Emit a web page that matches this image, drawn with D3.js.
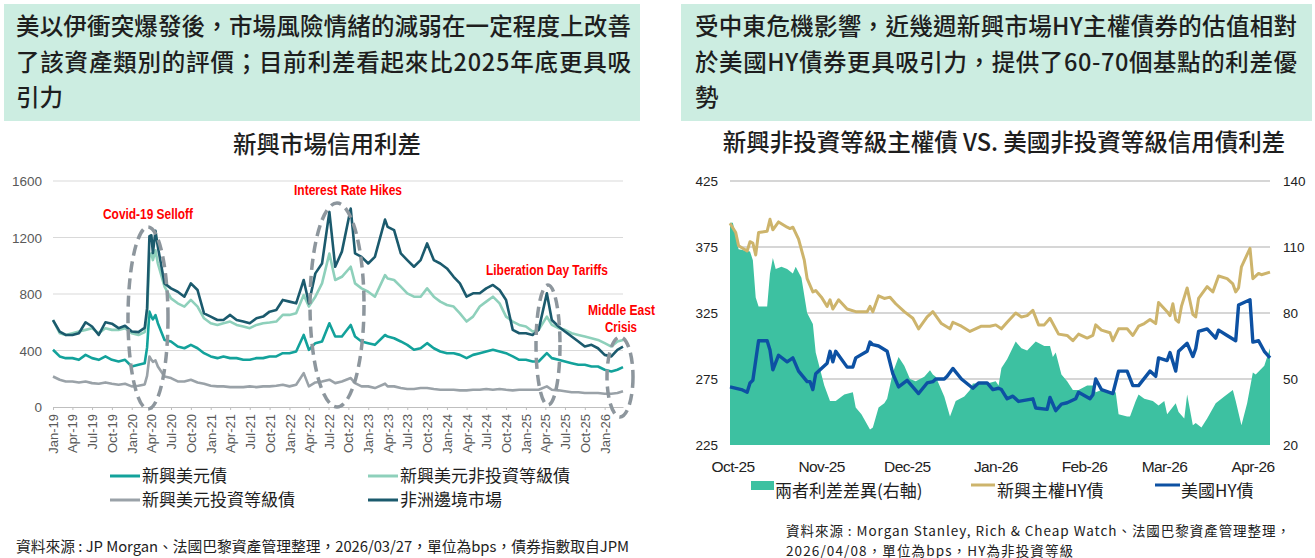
<!DOCTYPE html>
<html>
<head>
<meta charset="utf-8">
<script src="https://cdn.jsdelivr.net/npm/d3@7"></script>
<style>
body { margin: 0; background: #fff; }
svg { display: block; font-family: "Noto Sans CJK TC", "Noto Sans", sans-serif; }
</style>
</head>
<body>
<svg id="chart" width="1315" height="558"></svg>
<script>
// ---- left chart: EM credit spreads (bps) ----
const emDates = [
  '2019-01-01','2019-02-01','2019-03-01','2019-04-01','2019-05-01','2019-06-01','2019-07-01','2019-08-01','2019-09-01','2019-10-01','2019-11-01','2019-12-01',
  '2020-01-01','2020-02-01','2020-03-01','2020-03-12','2020-03-23','2020-04-01','2020-04-08','2020-04-20','2020-05-01','2020-06-01','2020-07-01','2020-08-01','2020-09-01','2020-10-01','2020-11-01','2020-12-01',
  '2021-01-01','2021-02-01','2021-03-01','2021-04-01','2021-05-01','2021-06-01','2021-07-01','2021-08-01','2021-09-01','2021-10-01','2021-11-01','2021-12-01',
  '2022-01-01','2022-02-01','2022-03-08','2022-04-01','2022-05-01','2022-06-01','2022-07-05','2022-08-01','2022-09-01','2022-10-12','2022-11-01','2022-12-01',
  '2023-01-01','2023-02-01','2023-03-20','2023-04-01','2023-05-01','2023-06-01','2023-07-01','2023-08-01','2023-09-01','2023-10-01','2023-11-01','2023-12-01',
  '2024-01-01','2024-02-01','2024-03-01','2024-04-01','2024-05-01','2024-06-01','2024-07-01','2024-08-01','2024-09-01','2024-10-01','2024-11-01','2024-12-01',
  '2025-01-01','2025-02-01','2025-03-01','2025-04-08','2025-05-01','2025-06-01','2025-07-01','2025-08-01','2025-09-01','2025-10-01','2025-11-01','2025-12-01',
  '2026-01-01','2026-02-01','2026-03-01','2026-03-27'
]
const africaSpread = [
  615,534,510,510,522,600,570,510,600,590,558,575,
  534,530,560,700,1210,1216,1090,1247,1134,875,840,816,781,875,828,663,
  640,616,616,652,616,605,593,628,640,675,687,758,
  746,734,899,734,946,1016,1381,993,1100,1405,1087,1063,
  1016,1063,1327,1275,1252,1087,1040,993,1040,1158,1040,1016,
  981,922,875,781,805,805,840,864,828,758,546,522,
  522,510,546,805,616,570,534,499,464,428,440,416,
  369,358,405,428
]
const emHySpread = [
  616,522,510,522,534,546,558,522,558,546,546,558,
  522,510,530,650,1060,1087,1040,1110,1016,852,769,734,711,758,711,628,
  593,581,593,605,581,570,558,581,593,598,605,652,
  652,663,793,711,781,875,1087,899,922,993,875,840,
  816,781,934,910,899,852,805,781,781,840,781,746,
  722,711,663,605,640,711,746,781,734,640,605,581,
  570,534,546,640,581,558,546,522,510,499,487,475,
  452,428,464,475
]
const emUsdSpread = [
  405,358,346,346,334,369,346,334,358,334,322,334,
  287,299,310,420,675,640,620,650,593,475,464,428,416,440,416,381,
  358,346,358,346,346,334,334,346,346,358,358,381,
  381,393,510,405,452,464,593,499,499,581,499,464,
  452,440,510,499,487,464,440,405,416,452,416,393,
  381,381,369,346,369,381,393,405,393,381,358,334,
  334,322,322,381,346,334,322,310,299,299,287,287,
  264,252,264,282
]
const emIgSpread = [
  216,193,181,181,174,181,169,165,174,165,158,165,
  146,151,160,220,358,334,320,330,287,216,205,181,181,193,174,165,
  151,146,146,141,141,141,146,141,146,146,151,158,
  146,158,240,146,174,181,193,169,181,205,169,146,
  146,134,165,146,146,134,127,127,134,134,127,122,
  122,122,118,118,122,122,127,122,127,122,118,122,
  122,122,122,146,122,118,111,104,104,99,99,99,
  94,94,99,111
]
const leftTicks = [0, 400, 800, 1200, 1600]
const leftNames = ['新興美元債', '新興美元非投資等級債', '新興美元投資等級債', '非洲邊境市場']

// ---- right chart: EM sovereign HY vs US HY (bps) ----
const sovDates = ['2025-10-01','2025-10-03','2025-10-04','2025-10-07','2025-10-08','2025-10-09','2025-10-10','2025-10-11','2025-10-14','2025-10-15','2025-10-16','2025-10-18','2025-10-21','2025-10-22','2025-10-23','2025-10-25','2025-10-27','2025-10-28','2025-10-30','2025-10-31',
  '2025-11-02','2025-11-04','2025-11-05','2025-11-06','2025-11-08','2025-11-11','2025-11-14','2025-11-18','2025-11-19','2025-11-20','2025-11-22','2025-11-24','2025-11-26','2025-11-28',
  '2025-12-01','2025-12-04','2025-12-06','2025-12-09','2025-12-11','2025-12-14','2025-12-17','2025-12-18','2025-12-21','2025-12-24','2025-12-28','2025-12-31',
  '2026-01-02','2026-01-04','2026-01-06','2026-01-09','2026-01-11','2026-01-13','2026-01-15','2026-01-17','2026-01-19','2026-01-21','2026-01-24','2026-01-27','2026-01-29','2026-01-31',
  '2026-02-03','2026-02-05','2026-02-06','2026-02-08','2026-02-11','2026-02-12','2026-02-14','2026-02-17','2026-02-19','2026-02-21','2026-02-23','2026-02-25','2026-02-27','2026-02-28',
  '2026-03-03','2026-03-04','2026-03-05','2026-03-06','2026-03-07','2026-03-08','2026-03-10','2026-03-12','2026-03-13','2026-03-14','2026-03-17','2026-03-19','2026-03-21','2026-03-24','2026-03-26','2026-03-27','2026-03-28','2026-03-29',
  '2026-04-01','2026-04-02','2026-04-04','2026-04-05','2026-04-08']
const sovHy = [393,386,376,372,379,378,369,386,387,396,388,394,390,389,390,381,365,351,341,342,
  337,330,335,328,335,328,326,326,330,326,338,336,337,332,
  326,321,313,322,326,317,313,318,315,311,315,315,
  316,313,318,325,322,323,327,316,316,321,309,308,304,309,
  306,308,316,312,310,304,313,313,308,315,317,320,317,333,
  326,323,332,320,318,330,344,324,322,336,345,341,353,351,347,341,344,360,
  374,351,355,354,356]
const usDates = ['2025-10-01','2025-10-05','2025-10-07','2025-10-08','2025-10-09','2025-10-11','2025-10-14','2025-10-15','2025-10-16','2025-10-18','2025-10-21','2025-10-23','2025-10-25','2025-10-28','2025-10-29','2025-10-30','2025-10-31',
  '2025-11-02','2025-11-04','2025-11-05','2025-11-06','2025-11-07','2025-11-11','2025-11-13','2025-11-14','2025-11-18','2025-11-19','2025-11-20','2025-11-22','2025-11-25','2025-11-27','2025-11-29',
  '2025-12-02','2025-12-06','2025-12-09','2025-12-11','2025-12-12','2025-12-15','2025-12-16','2025-12-18','2025-12-21','2025-12-25','2025-12-27','2025-12-30',
  '2026-01-01','2026-01-03','2026-01-04','2026-01-06','2026-01-08','2026-01-10','2026-01-15','2026-01-16','2026-01-20','2026-01-21','2026-01-23','2026-01-25','2026-01-27','2026-01-30','2026-01-31',
  '2026-02-04','2026-02-05','2026-02-06','2026-02-08','2026-02-12','2026-02-14','2026-02-17','2026-02-19','2026-02-21','2026-02-25','2026-02-27','2026-02-28',
  '2026-03-03','2026-03-04','2026-03-06','2026-03-07','2026-03-10','2026-03-12','2026-03-13','2026-03-14','2026-03-17','2026-03-20','2026-03-21','2026-03-24','2026-03-27','2026-03-28',
  '2026-04-01','2026-04-02','2026-04-04','2026-04-06','2026-04-08']
const usHy = [269,267,265,272,274,304,304,297,282,293,288,291,281,273,273,267,279,
  283,287,296,288,296,284,284,291,296,303,301,300,296,279,269,
  274,264,272,273,275,275,277,283,275,268,272,272,
  267,268,267,260,262,258,260,253,252,261,251,256,257,260,265,
  260,263,275,267,264,281,281,270,270,281,277,291,
  289,295,281,296,302,292,298,311,313,306,312,308,304,331,
  335,303,304,296,291]
const gapDates = ['2025-10-01','2025-10-02','2025-10-04','2025-10-08','2025-10-09','2025-10-10','2025-10-11','2025-10-14','2025-10-15','2025-10-16','2025-10-17','2025-10-19','2025-10-21','2025-10-23','2025-10-24','2025-10-26','2025-10-28','2025-10-30','2025-10-31',
  '2025-11-03','2025-11-05','2025-11-07','2025-11-10','2025-11-13','2025-11-14','2025-11-16','2025-11-19','2025-11-20','2025-11-22','2025-11-24','2025-11-25','2025-11-27','2025-11-29',
  '2025-12-01','2025-12-03','2025-12-05','2025-12-08','2025-12-10','2025-12-11','2025-12-12','2025-12-15','2025-12-17','2025-12-19','2025-12-22','2025-12-24','2025-12-25','2025-12-27','2025-12-30',
  '2026-01-02','2026-01-03','2026-01-04','2026-01-06','2026-01-09','2026-01-11','2026-01-13','2026-01-16','2026-01-19','2026-01-21','2026-01-22','2026-01-23','2026-01-25','2026-01-27','2026-01-29','2026-01-31',
  '2026-02-03','2026-02-05','2026-02-06','2026-02-08','2026-02-12','2026-02-13','2026-02-14','2026-02-17','2026-02-18','2026-02-20','2026-02-21','2026-02-23','2026-02-26','2026-02-28',
  '2026-03-02','2026-03-03','2026-03-06','2026-03-07','2026-03-09','2026-03-10','2026-03-12','2026-03-13','2026-03-15','2026-03-17','2026-03-20','2026-03-23','2026-03-26','2026-03-27','2026-03-29','2026-03-31',
  '2026-04-02','2026-04-03','2026-04-06','2026-04-08']
const gapVals = [121,121,109,108,104,87,83,83,98,105,100,101,100,98,101,96,80,75,62,
  47,40,40,43,44,37,34,27,28,37,39,41,53,60,
  56,50,49,51,54,52,51,42,33,40,42,45,48,48,48,
  49,47,55,59,67,64,63,67,65,65,60,62,52,49,45,45,
  47,47,44,45,44,44,34,33,33,40,43,41,40,38,
  40,34,39,35,32,43,29,30,28,32,39,42,45,40,29,39,
  53,52,56,64]
const rightLeftTicks = [225, 275, 325, 375, 425]
const rightRightTicks = [20, 50, 80, 110, 140]
const rightNames = ['兩者利差差異(右軸)', '新興主權HY債', '美國HY債']

const parse = d3.timeParse('%Y-%m-%d')
const svg = d3.select('#chart')
const latin = '"Liberation Sans", Arial, sans-serif'

// header boxes
const headers = [
  { x: 4, w: 636, tx: 16, len: 615, lines: ['美以伊衝突爆發後，市場風險情緒的減弱在一定程度上改善', '了該資產類別的評價；目前利差看起來比2025年底更具吸', '引力'] },
  { x: 681, w: 631, tx: 695, len: 602, lines: ['受中東危機影響，近幾週新興市場HY主權債券的估值相對', '於美國HY債券更具吸引力，提供了60-70個基點的利差優', '勢'] }
]
headers.forEach(h => {
  svg.append('rect').attr('x', h.x).attr('y', 4).attr('width', h.w).attr('height', 117).attr('fill', '#ccede1')
  svg.append('g').selectAll('text').data(h.lines).enter().append('text')
    .attr('x', h.tx).attr('y', (d, i) => 35 + i * 35.5)
    .attr('font-size', 23.5).attr('font-weight', 500).attr('fill', '#1e1e1e')
    .attr('textLength', (d, i) => i < 2 ? h.len : null)
    .text(d => d)
})

svg.append('text').attr('x', 327).attr('y', 153).attr('text-anchor', 'middle')
  .attr('font-size', 23.5).attr('font-weight', 500).attr('fill', '#1e1e1e').text('新興市場信用利差')
svg.append('text').attr('x', 1004).attr('y', 151).attr('text-anchor', 'middle')
  .attr('font-size', 23.5).attr('font-weight', 500).attr('fill', '#1e1e1e')
  .text('新興非投資等級主權債 VS. 美國非投資等級信用債利差')

// ---- left chart ----
const dates = emDates.map(parse)
const xL = d3.scaleTime().domain([dates[0], dates[dates.length - 1]]).range([53, 623])
const yL = d3.scaleLinear().domain([0, 1600]).range([407, 181])

svg.append('g').selectAll('line').data(leftTicks.slice(1)).enter().append('line')
  .attr('x1', 53).attr('x2', 623).attr('y1', d => yL(d)).attr('y2', d => yL(d))
  .attr('stroke', '#d9d9d9').attr('stroke-width', 1)
svg.append('g').selectAll('text').data(leftTicks).enter().append('text')
  .attr('x', 42).attr('y', d => yL(d) + 5).attr('text-anchor', 'end')
  .attr('font-family', latin).attr('font-size', 13.5).attr('fill', '#595959').text(d => d)

const xAxisL = svg.append('g').attr('transform', 'translate(0,407)')
  .call(d3.axisBottom(xL).ticks(d3.timeMonth.every(3)).tickFormat(d3.timeFormat('%b-%y')).tickSize(3).tickSizeOuter(0))
xAxisL.select('.domain').attr('stroke', '#bfbfbf')
xAxisL.selectAll('.tick line').attr('stroke', '#bfbfbf')
xAxisL.selectAll('.tick text')
  .attr('transform', 'rotate(-90)').attr('text-anchor', 'end')
  .attr('x', -7).attr('y', 0).attr('dy', '0.35em')
  .attr('font-family', latin).attr('font-size', 13).attr('fill', '#595959')

const leftSeries = [
  { vals: emIgSpread, color: '#9aa2a8' },
  { vals: emUsdSpread, color: '#13a29b' },
  { vals: emHySpread, color: '#8ed0bb' },
  { vals: africaSpread, color: '#1b5a6d' }
]
const lineL = d3.line().x(d => xL(d[0])).y(d => yL(d[1]))
leftSeries.forEach(s => {
  svg.append('path').datum(dates.map((d, i) => [d, s.vals[i]]))
    .attr('d', lineL).attr('fill', 'none').attr('stroke', s.color)
    .attr('stroke-width', 2.6).attr('stroke-linejoin', 'round')
})

// event markers
const events = [
  { cx: 148, cy: 318, rx: 20, ry: 91 },
  { cx: 337, cy: 305, rx: 27, ry: 102 },
  { cx: 548, cy: 345, rx: 12, ry: 60 },
  { cx: 620, cy: 377, rx: 13, ry: 40 }
]
svg.append('g').selectAll('ellipse').data(events).enter().append('ellipse')
  .attr('cx', d => d.cx).attr('cy', d => d.cy).attr('rx', d => d.rx).attr('ry', d => d.ry)
  .attr('fill', 'none').attr('stroke', '#8d969d').attr('stroke-width', 3.5).attr('stroke-dasharray', '11,6')

const notes = [
  { t: 'Covid-19 Selloff', x: 103, y: 219, w: 90 },
  { t: 'Interest Rate Hikes', x: 294, y: 195, w: 108 },
  { t: 'Liberation Day Tariffs', x: 486, y: 275, w: 122 },
  { t: 'Middle East', x: 588, y: 315, w: 67 },
  { t: 'Crisis', x: 605, y: 332, w: 32 }
]
svg.append('g').selectAll('text').data(notes).enter().append('text')
  .attr('x', d => d.x).attr('y', d => d.y).attr('textLength', d => d.w).attr('lengthAdjust', 'spacingAndGlyphs')
  .attr('font-family', latin).attr('font-size', 14).attr('font-weight', 700).attr('fill', '#ff0000')
  .text(d => d.t)

// left legend
const legL = [
  { x: 110, y: 476, c: '#13a29b' }, { x: 368, y: 476, c: '#8ed0bb' },
  { x: 110, y: 500, c: '#9aa2a8' }, { x: 368, y: 500, c: '#1b5a6d' }
]
legL.forEach((l, i) => {
  svg.append('line').attr('x1', l.x).attr('x2', l.x + 30).attr('y1', l.y).attr('y2', l.y)
    .attr('stroke', l.c).attr('stroke-width', 3)
  svg.append('text').attr('x', l.x + 32).attr('y', l.y + 6).attr('font-size', 17).attr('fill', '#1e1e1e').text(leftNames[i])
})
svg.append('text').attr('x', 16).attr('y', 552).attr('font-size', 14.8).attr('fill', '#222')
  .attr('textLength', 613)
  .text('資料來源 : JP Morgan、法國巴黎資產管理整理，2026/03/27，單位為bps，債券指數取自JPM')

// ---- right chart ----
const xR = d3.scaleTime().domain([parse('2025-10-01'), parse('2026-04-08')]).range([730, 1270])
const yR = d3.scaleLinear().domain([225, 425]).range([445, 181])
const yR2 = d3.scaleLinear().domain([20, 140]).range([445, 181])

svg.append('g').selectAll('line').data(rightLeftTicks.slice(1)).enter().append('line')
  .attr('x1', 730).attr('x2', 1270).attr('y1', d => yR(d)).attr('y2', d => yR(d))
  .attr('stroke', '#d6d6d6').attr('stroke-width', 1.8)

const area = d3.area().x(d => xR(d[0])).y0(yR2(20)).y1(d => yR2(d[1]))
svg.append('path').datum(gapDates.map((d, i) => [parse(d), gapVals[i]]))
  .attr('d', area).attr('fill', '#3dc1a1')

const lineR = d3.line().x(d => xR(d[0])).y(d => yR(d[1]))
svg.append('path').datum(sovDates.map((d, i) => [parse(d), sovHy[i]]))
  .attr('d', lineR).attr('fill', 'none').attr('stroke', '#cdb46c').attr('stroke-width', 3).attr('stroke-linejoin', 'round')
svg.append('path').datum(usDates.map((d, i) => [parse(d), usHy[i]]))
  .attr('d', lineR).attr('fill', 'none').attr('stroke', '#0d51a3').attr('stroke-width', 3.4).attr('stroke-linejoin', 'round')

svg.append('g').selectAll('text').data(rightLeftTicks).enter().append('text')
  .attr('x', 718).attr('y', d => yR(d) + 5).attr('text-anchor', 'end')
  .attr('font-family', latin).attr('font-size', 13.5).attr('fill', '#222').text(d => d)
svg.append('g').selectAll('text').data(rightRightTicks).enter().append('text')
  .attr('x', 1283).attr('y', d => yR2(d) + 5)
  .attr('font-family', latin).attr('font-size', 13.5).attr('fill', '#222').text(d => d)
svg.append('g').selectAll('text').data(xR.ticks(d3.timeMonth.every(1))).enter().append('text')
  .attr('x', d => xR(d) + 3).attr('y', 472).attr('text-anchor', 'middle')
  .attr('font-family', latin).attr('font-size', 15.5).attr('letter-spacing', -0.6).attr('fill', '#222')
  .text(d3.timeFormat('%b-%y'))

// right legend
svg.append('rect').attr('x', 751).attr('y', 481).attr('width', 23).attr('height', 9).attr('fill', '#3dc1a1')
svg.append('line').attr('x1', 971).attr('x2', 995).attr('y1', 485).attr('y2', 485).attr('stroke', '#cdb46c').attr('stroke-width', 3)
svg.append('line').attr('x1', 1155).attr('x2', 1180).attr('y1', 485).attr('y2', 485).attr('stroke', '#0d51a3').attr('stroke-width', 3)
const legRx = [775, 997, 1181]
legRx.forEach((x, i) => {
  svg.append('text').attr('x', x).attr('y', 497).attr('font-size', 17).attr('fill', '#1e1e1e').text(rightNames[i])
})
svg.append('text').attr('x', 786).attr('y', 535.5).attr('font-size', 13.5).attr('fill', '#222')
  .attr('textLength', 504)
  .text('資料來源 : Morgan Stanley, Rich & Cheap Watch、法國巴黎資產管理整理，')
svg.append('text').attr('x', 786).attr('y', 555.5).attr('font-size', 13.5).attr('fill', '#222')
  .attr('textLength', 287)
  .text('2026/04/08，單位為bps，HY為非投資等級')
</script>
</body>
</html>
